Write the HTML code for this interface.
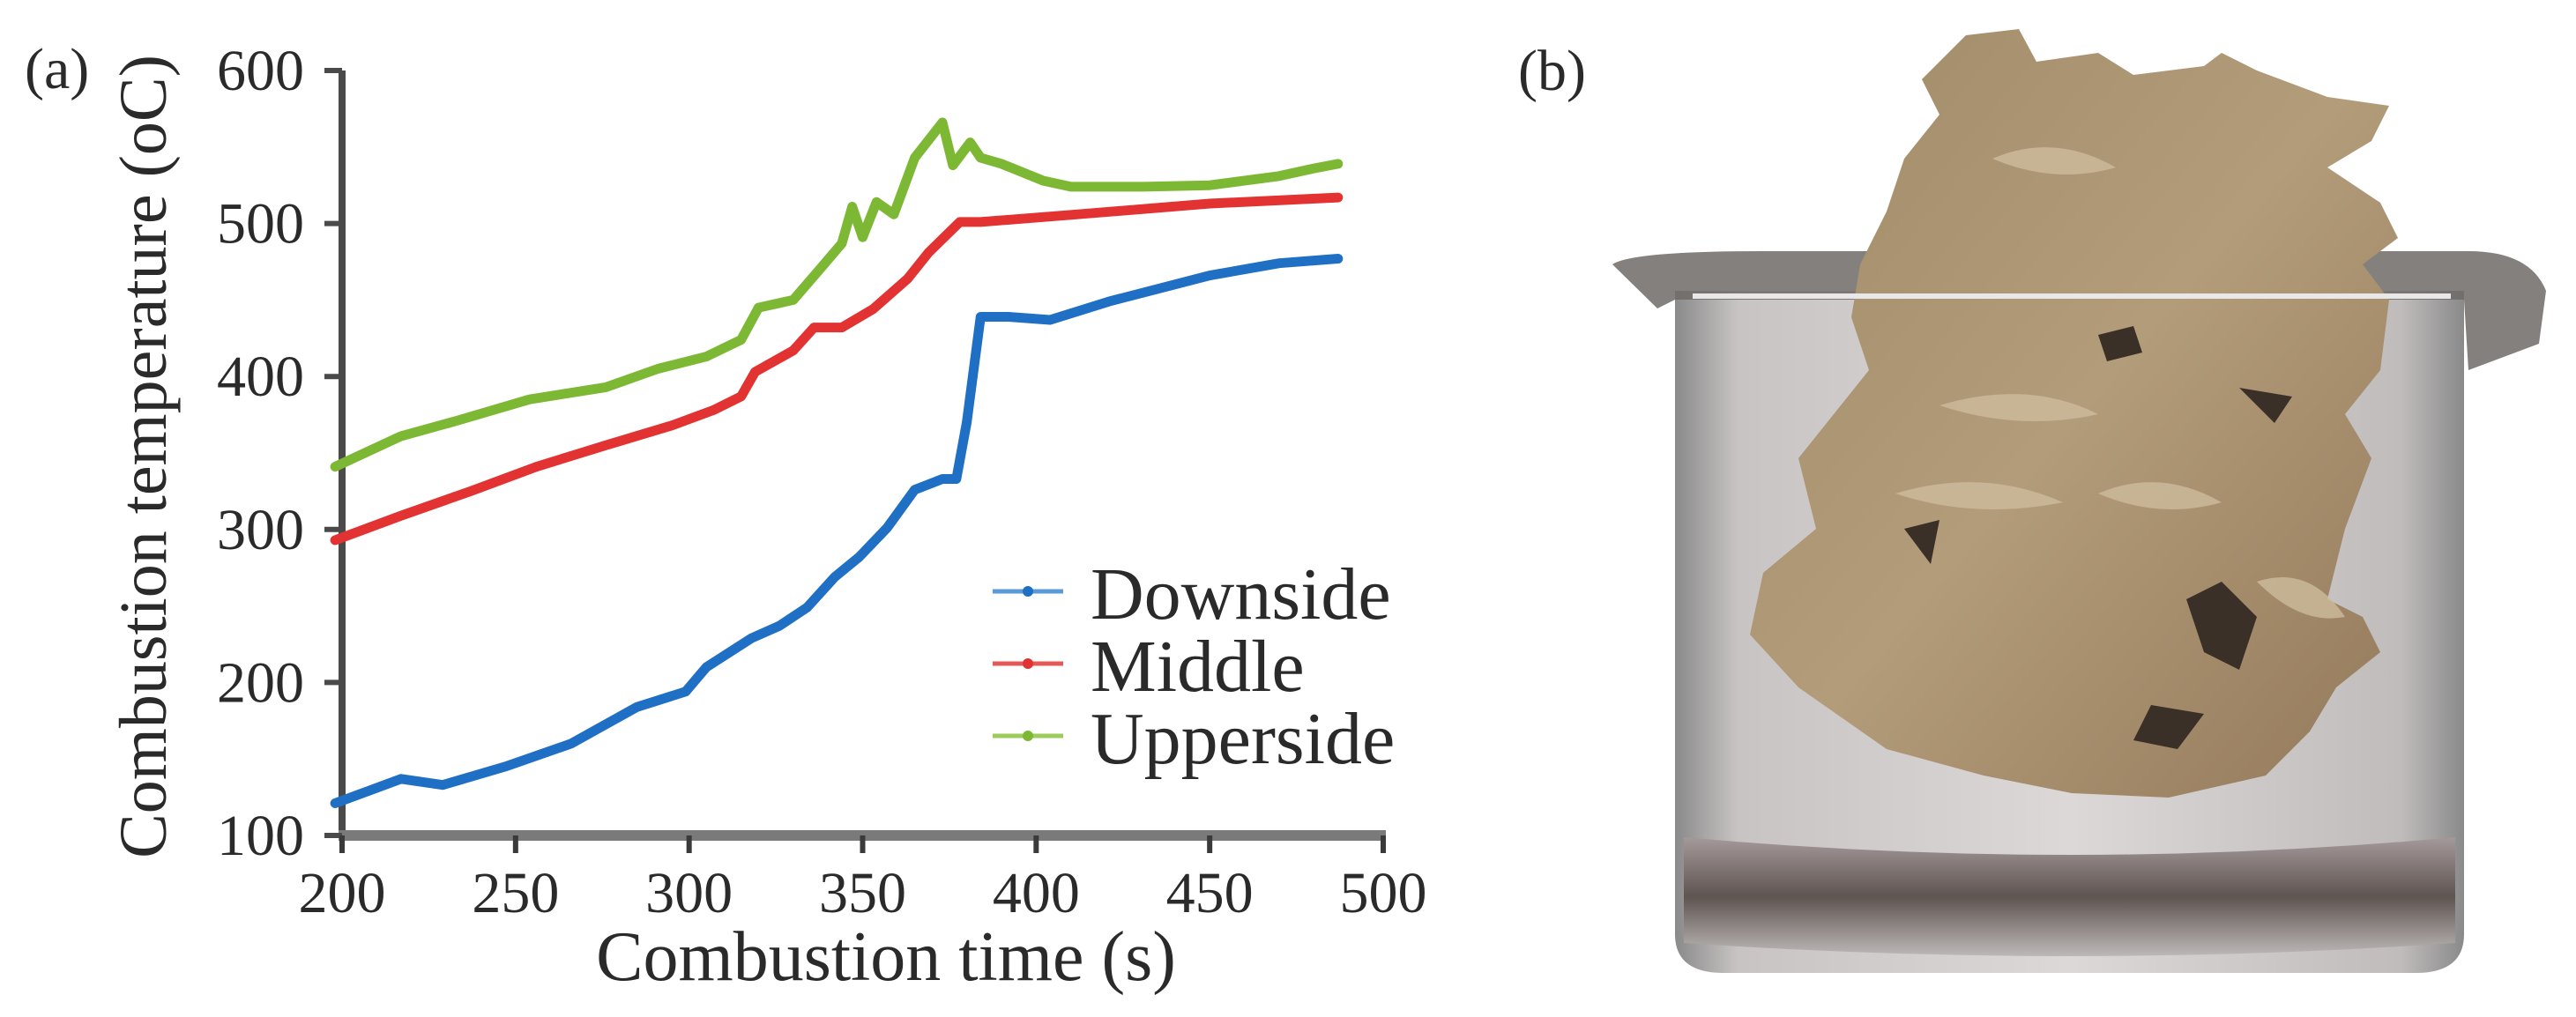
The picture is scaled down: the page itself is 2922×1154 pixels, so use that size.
<!DOCTYPE html>
<html><head><meta charset="utf-8"><style>
html,body{margin:0;padding:0;background:#fff;}
svg{display:block;}
text{font-family:"Liberation Serif",serif;fill:#2a2a2a;}
</style></head><body>
<svg id="fig" width="2922" height="1154" viewBox="0 0 2922 1154" xmlns="http://www.w3.org/2000/svg">
<defs>
<linearGradient id="glass" x1="0" x2="1" y1="0" y2="0">
<stop offset="0" stop-color="#8a8a8a"/><stop offset="0.08" stop-color="#c8c4c4"/><stop offset="0.5" stop-color="#ddd8d8"/><stop offset="0.92" stop-color="#c0bcbc"/><stop offset="1" stop-color="#8a8a8a"/>
</linearGradient>
<linearGradient id="bottom" x1="0" x2="0" y1="0" y2="1">
<stop offset="0" stop-color="#a59a9a"/><stop offset="0.5" stop-color="#5e5450"/><stop offset="1" stop-color="#bdb8b8"/>
</linearGradient>
<linearGradient id="clump" x1="0" x2="1" y1="0" y2="1">
<stop offset="0" stop-color="#a08a68"/><stop offset="0.5" stop-color="#b39c7a"/><stop offset="1" stop-color="#93795a"/>
</linearGradient>
</defs>
<text x="28" y="100" font-size="66">(a)</text>
<text x="1722" y="102" font-size="66">(b)</text>
<g id="chart"></g>
<g>
<path d="M1900 330 L2795 330 L2795 1060 Q2795 1104 2740 1104 L1955 1104 Q1900 1104 1900 1060 Z" fill="url(#glass)"/>
<path d="M1910 950 Q2350 990 2785 950 L2785 1070 Q2350 1100 1910 1070 Z" fill="url(#bottom)"/>
<path d="M1829 300 Q1850 285 2000 285 L2800 285 Q2870 285 2888 330 L2880 390 L2800 420 L2795 340 L1900 340 L1880 350 Z" fill="#6f6a66" opacity="0.85"/>
<path d="M2230 40 L2290 33 L2310 70 L2380 60 L2420 85 L2500 75 L2520 60 L2560 80 L2640 110 L2710 120 L2690 160 L2640 190 L2700 230 L2720 270 L2680 300 L2710 340 L2700 420 L2660 470 L2690 520 L2660 600 L2640 680 L2680 700 L2700 740 L2650 780 L2620 830 L2570 880 L2460 905 L2350 900 L2250 880 L2140 850 L2040 780 L1985 720 L2000 650 L2060 600 L2040 520 L2080 470 L2120 420 L2100 360 L2110 300 L2140 240 L2160 180 L2200 130 L2180 90 Z" fill="url(#clump)"/>
<path d="M2480 680 L2520 660 L2560 700 L2540 760 L2500 740 Z M2440 800 L2500 810 L2470 850 L2420 840 Z M2160 600 L2200 590 L2190 640 Z M2380 380 L2420 370 L2430 400 L2390 410 Z M2540 440 L2600 450 L2580 480 Z" fill="#3a3028"/>
<path d="M2260 180 Q2330 150 2400 190 Q2330 210 2260 180 Z M2200 460 Q2300 430 2380 470 Q2290 490 2200 460 Z M2150 560 Q2250 530 2340 570 Q2240 590 2150 560 Z M2380 560 Q2450 530 2520 570 Q2450 590 2380 560 Z M2560 660 Q2620 640 2660 700 Q2610 710 2560 660 Z" fill="#cdbb9c" opacity="0.8"/>
<line x1="1920" y1="336" x2="2780" y2="336" stroke="#e8e8e8" stroke-width="6"/>
</g>
</svg>
<script>
const timeTicks = [200, 250, 300, 350, 400, 450, 500];
const tempTicks = [100, 200, 300, 400, 500, 600];
const seriesNames = ["Downside", "Middle", "Upperside"];
const downT = [198,217,229,247,266,285,299,305,318,326,334,342,349,357,365,373,377,380,384,392,404,421,450,470,487];
const downV = [121,137,133,145,160,184,194,210,229,237,249,269,282,301,326,333,333,370,439,439,437,449,466,474,477];
const midT = [198,217,237,256,276,295,307,315,319,330,336,344,353,363,369,378,384,412,450,487];
const midV = [293,309,325,341,355,368,378,387,403,417,432,432,444,464,481,501,501,506,513,517];
const upT = [198,217,233,254,276,291,305,315,320,330,338,344,347,350,354,359,365,373,376,381,384,390,402,410,431,450,470,480,487];
const upV = [341,361,371,385,393,405,413,424,445,450,471,487,511,491,514,506,543,566,538,553,543,539,528,524,524,525,531,536,539];

const NS = "http://www.w3.org/2000/svg";
const g = document.getElementById('chart');
const X0 = 388, X1 = 1569, Y0 = 948, Y1 = 80;
function xs(t){ return X0 + (t - 200) / 300 * (X1 - X0); }
function ys(v){ return Y0 - (v - 100) / 500 * (Y0 - Y1); }
function mk(tag, attrs){ const e = document.createElementNS(NS, tag); for (const k in attrs) e.setAttribute(k, attrs[k]); g.appendChild(e); return e; }

// axes
let ax = mk('line', {x1:X0, y1:Y1, x2:X0, y2:Y0+4, stroke:'#4a4a4a', 'stroke-width':8});


ax = mk('line', {x1:X0-4, y1:Y0, x2:X1+3, y2:Y0, stroke:'#7a7a7a', 'stroke-width':12});



tempTicks.forEach(v => {
  const tk = mk('line', {x1:X0-20, y1:ys(v), x2:X0, y2:ys(v), stroke:'#4a4a4a', 'stroke-width':6});
  
  
  const tl = mk('text', {x:345, y:ys(v)+22, 'font-size':66, 'text-anchor':'end'});
  tl.textContent = v;
  
  
});
timeTicks.forEach(t => {
  const tk = mk('line', {x1:xs(t), y1:Y0, x2:xs(t), y2:Y0+20, stroke:'#3a3a3a', 'stroke-width':6});
  
  
  const tl = mk('text', {x:xs(t), y:1035, 'font-size':66, 'text-anchor':'middle'});
  tl.textContent = t;
  
  
});
let tt = mk('text', {x:1005, y:1112, 'font-size':80, 'text-anchor':'middle'});
tt.textContent = 'Combustion time (s)';


tt = mk('text', {x:0, y:0, 'font-size':76, 'text-anchor':'middle', transform:'translate(188,518) rotate(-90)', fill:'#3a3026'});
tt.textContent = 'Combustion temperature (oC)';



const colors = ['#1f6fc4', '#e23232', '#7cb833'];
const lcolors = ['#5a9ad8', '#e45858', '#9ccc5c'];
const data = [[downT, downV], [midT, midV], [upT, upV]];
data.forEach((d, i) => {
  const pts = d[0].map((t, j) => xs(t).toFixed(1) + ',' + ys(d[1][j]).toFixed(1)).join(' ');
  const pl = mk('polyline', {points:pts, fill:'none', stroke:colors[i], 'stroke-width':11, 'stroke-linejoin':'round', 'stroke-linecap':'round'});
  
  
});
const legY = [671, 753, 835];
seriesNames.forEach((n, i) => {
  const ll = mk('line', {x1:1126, y1:legY[i], x2:1206, y2:legY[i], stroke:lcolors[i], 'stroke-width':5});
  
  
  const dot = mk('circle', {cx:1166, cy:legY[i], r:6, fill:colors[i]});
  
  
  const lt = mk('text', {x:1237, y:legY[i]+31, 'font-size':84});
  lt.textContent = n;
  
  
});
</script>
</body></html>
